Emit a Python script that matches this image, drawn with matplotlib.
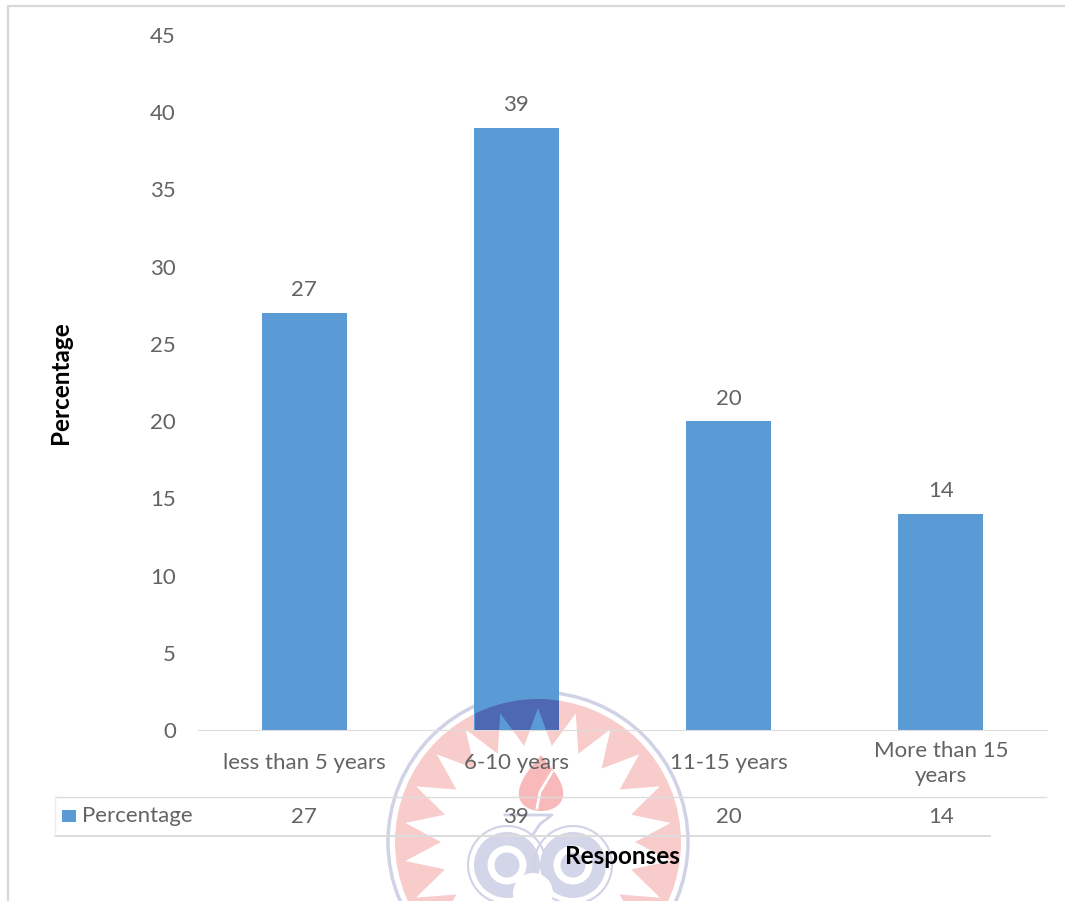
"""Bar chart of responses with data table row, seal watermark behind it."""
import numpy as np
import matplotlib.pyplot as plt
from matplotlib.patches import Circle, Polygon, Rectangle

plt.rcParams.update({"font.family": ["Lato", "DejaVu Sans"]})

W, H = 1065, 901

categories = ["less than 5 years", "6-10 years", "11-15 years", "More than 15\nyears"]
values = [27, 39, 20, 14]
y_ticks = [0, 5, 10, 15, 20, 25, 30, 35, 40, 45]
series_name = "Percentage"

BAR_COLOR = "#5b9bd5"
TEXT_COLOR = "#636363"
LINE_COLOR = "#dcdcdc"
SEAL_RED = "#f9cccc"
SEAL_BLUE = "#d3d5e8"
SEAL_RING = "#d0d2e6"

fig = plt.figure(figsize=(W / 100, H / 100), dpi=100)
fig.patch.set_facecolor("white")


def px_x(x):
    return x / W


def px_y(y):
    return 1 - y / H


def pixel_axes(zorder):
    a = fig.add_axes([0, 0, 1, 1], zorder=zorder)
    a.set_xlim(0, W)
    a.set_ylim(H, 0)
    a.axis("off")
    a.patch.set_alpha(0)
    return a


# background canvas in pixel coords, used for the frame and the seal
bg = pixel_axes(0)
bg.plot([8, 8, 1065], [901, 6, 6], color="#d8d8d8", lw=1.6)

# seal watermark
cx, cy, rad = 538, 842, 150
n_pts = 44
angles = np.linspace(-np.pi / 2, 1.5 * np.pi, n_pts + 1)[:-1]
radii = np.where(np.arange(n_pts) % 2 == 0, 134, 97)
star = np.column_stack([cx + radii * np.cos(angles), cy + radii * np.sin(angles)])

bg.add_patch(Circle((cx, cy), rad, fc="white", ec=SEAL_RING, lw=2.5))
bg.add_patch(Circle((cx, cy), rad - 7, fc=SEAL_RED, ec="none"))
bg.add_patch(Polygon(star, fc="white", ec="none"))

# flame
t = np.linspace(0, 2 * np.pi, 80)
flame_x = 541 + 30 * np.sin(t) * np.sin(t / 2) ** 1.2
flame_y = 755 + 56 * (1 - np.cos(t)) / 2
bg.add_patch(Polygon(np.column_stack([flame_x, flame_y]), fc="#f7b9b9", ec="none"))
bg.plot([552, 540, 537], [772, 792, 808], color="white", lw=2)

# lamp neck and body
bg.plot([505, 552, 540, 532], [815, 815, 824, 836], color=SEAL_RING, lw=2)
for lobe_x in [507, 573]:
    bg.add_patch(Circle((lobe_x, 865), 39, fc="none", ec=SEAL_RING, lw=1.5))
    bg.add_patch(Circle((lobe_x, 865), 33, fc=SEAL_BLUE, ec="none"))
    bg.add_patch(Circle((lobe_x, 865), 16, fc="none", ec="white", lw=5))
bg.add_patch(Circle((533, 893), 20, fc="white", ec="none"))

# main chart
ax = fig.add_axes([px_x(198), px_y(730), (1047 - 198) / W, (730 - 35) / H], zorder=1)
ax.patch.set_alpha(0)
x = np.arange(len(categories))
bars = ax.bar(x, values, width=0.4, color=BAR_COLOR)
ax.bar_label(bars, labels=[str(v) for v in values], padding=9, fontsize=16, color=TEXT_COLOR)

ax.set_xlim(-0.5, len(categories) - 0.5)
ax.set_ylim(0, 45)
ax.set_yticks(y_ticks)
ax.set_xticks(x)
ax.set_xticklabels(categories, fontsize=16, color=TEXT_COLOR, linespacing=1.35, va="center")
ax.tick_params(axis="x", length=0, pad=24)
ax.tick_params(axis="y", length=0, pad=16, labelsize=16, labelcolor=TEXT_COLOR)
for side in ["top", "right", "left"]:
    ax.spines[side].set_visible(False)
ax.spines["bottom"].set_color(LINE_COLOR)

# seal showing through the 6-10 years bar
over = pixel_axes(1.5)
clip_box = Rectangle((475, 660), 84, 70, transform=over.transData)
seal_dark = Circle((cx, cy), rad - 7, fc="#4f68b4", ec="none")
seal_star = Polygon(star, fc=BAR_COLOR, ec="none")
for patch in [seal_dark, seal_star]:
    over.add_patch(patch)
    patch.set_clip_path(clip_box)

# data table row below the axis
top = pixel_axes(2)
top.plot([55, 1046], [797, 797], color=LINE_COLOR, lw=1)
top.plot([55, 990], [836, 836], color=LINE_COLOR, lw=1.4)
top.plot([55, 55], [797, 836], color="#eeeeee", lw=1)
top.add_patch(Rectangle((62, 810), 14, 12, fc=BAR_COLOR, ec="none"))
top.text(82, 816, series_name, fontsize=16, color=TEXT_COLOR, va="center")
for i, v in zip(x, values):
    top.text(304 + i * 212.3, 817, str(v), fontsize=16, color=TEXT_COLOR, ha="center", va="center")

# axis titles
top.text(622, 857, "Responses", fontsize=17.5, fontweight="bold", color="black", ha="center", va="center")
top.text(61, 383, "Percentage", fontsize=17.5, fontweight="bold", color="black",
         rotation=90, ha="center", va="center")

fig.savefig("out.png", dpi=100)
